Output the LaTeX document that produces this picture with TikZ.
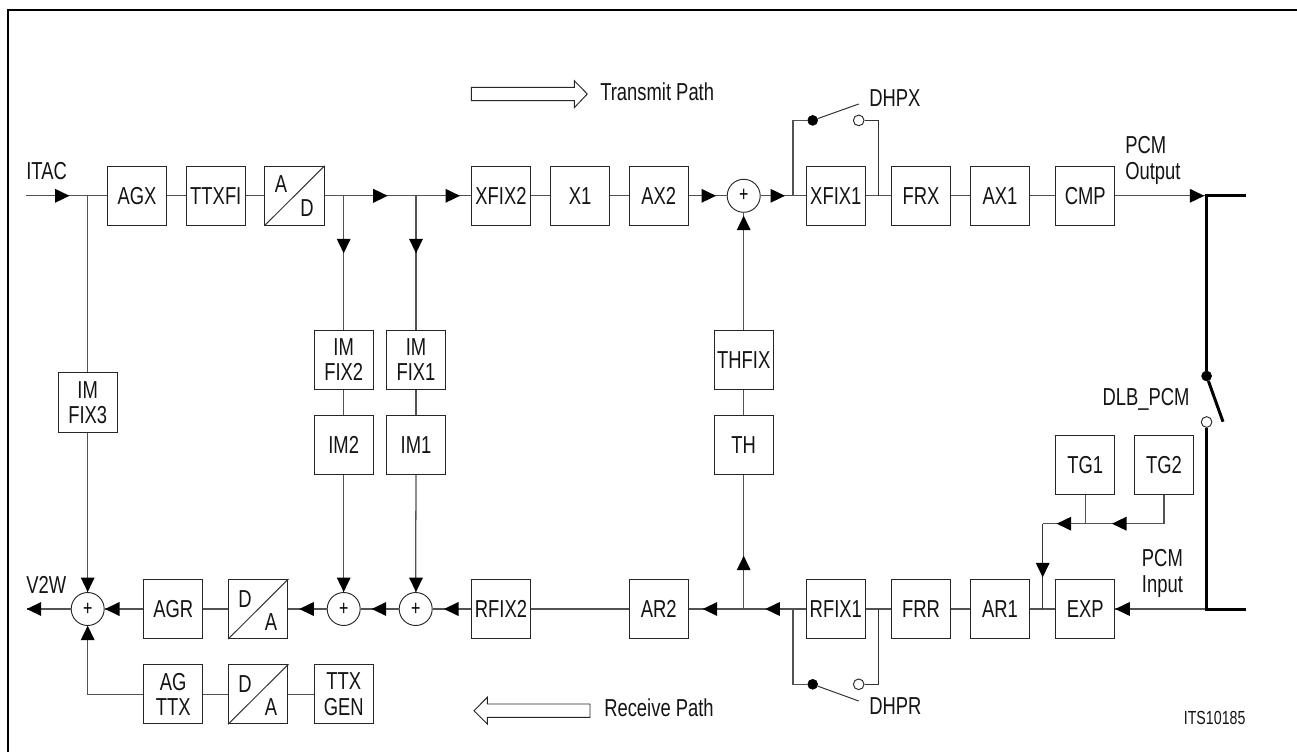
\documentclass[tikz,border=0pt]{standalone}
\usepackage{fontspec}
\setmainfont[FakeStretch=0.75]{Liberation Sans}
\newcommand{\tipat}[3]{\fill[black,shift={(#1,#2)},rotate=#3] (0,0) -- (-14.5,7) -- (-14.5,-7) -- cycle;}
\tikzset{
  lab/.style={font=\fontsize{18.4}{19.1}\selectfont,text=black!92,inner sep=0pt},
  blk/.style={draw=black!85,line width=0.75pt,minimum width=44.5pt,minimum height=44.3pt,inner sep=0pt,align=center,font=\fontsize{18.4}{19.1}\selectfont,text=black!92},
  sumnode/.style={circle,draw=black!85,line width=0.7pt,minimum size=24.75pt,inner sep=0pt,font=\fontsize{16}{17}\selectfont},
  conn/.style={draw=black!68,line width=0.95pt},
  swline/.style={draw=black!80,line width=0.75pt},
  thick bus/.style={draw=black,line width=2.25pt},
  dotfull/.style={circle,fill=black,draw=black,minimum size=7.5pt,inner sep=0pt},
  dotopen/.style={circle,fill=white,draw=black!85,line width=0.7pt,minimum size=8pt,inner sep=0pt},
  hollow/.style={draw=black!85,line width=0.7pt,fill=white},
}
\begin{document}
\begin{tikzpicture}[x=0.75pt,y=-0.75pt]
\useasboundingbox (0,0) rectangle (1297,752);
\draw[black,line width=1.6pt] (8,752) -- (8,10) -- (1297,10);

% top row
\node[blk] (agx) at (137,195.8) {AGX};
\node[blk] (ttxfi) at (215.8,195.8) {TTXFI};
\node[blk] (ad) at (294.5,195.8) {};
\node[blk] (xfix2) at (501,195.8) {XFIX2};
\node[blk] (x1) at (580,195.8) {X1};
\node[blk] (ax2) at (658.7,195.8) {AX2};
\node[sumnode] (sumt) at (743.7,195.8) {+};
\node[blk] (xfix1) at (835.8,195.8) {XFIX1};
\node[blk] (frx) at (921,195.8) {FRX};
\node[blk] (ax1) at (1000,195.8) {AX1};
\node[blk] (cmp) at (1085.3,195.8) {CMP};
% verticals
\node[blk] (imfix3) at (87.7,402.5) {IM\\FIX3};
\node[blk] (imfix2) at (343.7,359.8) {IM\\FIX2};
\node[blk] (im2) at (343.7,444.9) {IM2};
\node[blk] (imfix1) at (416,359.8) {IM\\FIX1};
\node[blk] (im1) at (416,444.9) {IM1};
\node[blk] (thfix) at (743.7,359.8) {THFIX};
\node[blk] (th) at (743.7,444.9) {TH};
\node[blk] (tg1) at (1085.3,464.8) {TG1};
\node[blk] (tg2) at (1164,464.8) {TG2};
% bottom row
\node[sumnode] (suma) at (87.7,609) {+};
\node[blk] (agr) at (173.2,609) {AGR};
\node[blk] (da) at (258.3,609) {};
\node[sumnode] (sumb) at (343.7,609) {+};
\node[sumnode] (sumc) at (415.7,609) {+};
\node[blk] (rfix2) at (501,609) {RFIX2};
\node[blk] (ar2) at (658.7,609) {AR2};
\node[blk] (rfix1) at (835.8,609) {RFIX1};
\node[blk] (frr) at (921,609) {FRR};
\node[blk] (ar1) at (1000,609) {AR1};
\node[blk] (exp) at (1085.3,609) {EXP};
\node[blk] (agttx) at (173.2,694.2) {AG\\TTX};
\node[blk] (dab) at (258.3,694.2) {};
\node[blk] (ttxgen) at (343.7,694.2) {TTX\\GEN};

% A/D letters and diagonals
\draw[swline] (ad.south west) -- (ad.north east);
\draw[swline] (da.south west) -- (da.north east);
\draw[swline] (dab.south west) -- (dab.north east);
\node[lab] (adA) at (281,184.3) {A};
\node[lab] (adD) at (307,208.3) {D};
\node[lab] (daD) at (245,598.7) {D};
\node[lab] (daA) at (271,622.3) {A};
\node[lab] (dabD) at (245,684) {D};
\node[lab] (dabA) at (271,707.5) {A};

% junction coordinates
\coordinate (itacin) at (25.7,195.8);
\coordinate (j3) at (87.7,195.8);
\coordinate (j2) at (343.7,195.8);
\coordinate (j1) at (416,195.8);
\coordinate (jx) at (793,195.8);
\coordinate (jxr) at (878.7,195.8);
\coordinate (v2w) at (26.7,609);
\coordinate (jth) at (743.7,609);
\coordinate (jr) at (793,609);
\coordinate (jrr) at (878.7,609);
\coordinate (jexp) at (1042.7,609);
\coordinate (jtg) at (1042.7,523.7);
\coordinate (jtg1) at (1085.3,523.7);
\coordinate (jtg2) at (1164,523.7);
\coordinate (pcmo) at (1206.6,195.8);
\coordinate (pcmi) at (1206.6,609);
\coordinate (pcmoe) at (1245.7,195.8);
\coordinate (pcmie) at (1245.7,609);

% switches
\node[dotfull] (sxa) at (812.7,120.4) {};
\node[dotopen] (sxb) at (858.7,120.4) {};
\coordinate (sxarm) at (858.7,104);
\node[dotfull] (sra) at (812.7,684.3) {};
\node[dotopen] (srb) at (858.7,684.3) {};
\coordinate (srarm) at (858.7,701);
\node[dotfull] (dla) at (1206.6,376) {};
\node[dotopen] (dlb) at (1206.6,422) {};
\coordinate (dlarm) at (1223,421.7);

% connectors top
\draw[conn] (itacin) -- (agx);
\draw[conn] (agx) -- (ttxfi);
\draw[conn] (ttxfi) -- (ad);
\draw[conn] (ad) -- (xfix2);
\draw[conn] (xfix2) -- (x1);
\draw[conn] (x1) -- (ax2);
\draw[conn] (ax2) -- (sumt);
\draw[conn] (sumt) -- (xfix1);
\draw[conn] (xfix1) -- (frx);
\draw[conn] (frx) -- (ax1);
\draw[conn] (ax1) -- (cmp);
\draw[conn] (cmp) -- (pcmo);
% verticals
\draw[conn] (j3) -- (imfix3);
\draw[conn] (imfix3) -- (suma);
\draw[conn] (j2) -- (imfix2);
\draw[conn] (imfix2) -- (im2);
\draw[conn] (im2) -- (sumb);
\draw[conn] (j1) -- (imfix1);
\draw[conn] (imfix1) -- (im1);
\draw[conn] (im1) -- (sumc);
\draw[conn] (thfix) -- (sumt);
\draw[conn] (th) -- (thfix);
\draw[conn] (jth) -- (th);
% bottom
\draw[conn] (suma) -- (v2w);
\draw[conn] (agr) -- (suma);
\draw[conn] (da) -- (agr);
\draw[conn] (sumb) -- (da);
\draw[conn] (sumc) -- (sumb);
\draw[conn] (rfix2) -- (sumc);
\draw[conn] (ar2) -- (rfix2);
\draw[conn] (rfix1) -- (ar2);
\draw[conn] (frr) -- (rfix1);
\draw[conn] (ar1) -- (frr);
\draw[conn] (exp) -- (ar1);
\draw[conn] (pcmi) -- (exp);
\draw[conn] (agttx.west) -| (suma.south);
\draw[conn] (dab) -- (agttx);
\draw[conn] (ttxgen) -- (dab);
% TG
\draw[conn] (tg1) -- (jtg1);
\draw[conn] (tg2) |- (jtg1);
\draw[conn] (jtg1) -- (jtg);
\draw[swline] (jtg) -- (jexp);
% bypass
\draw[conn] (jx) -- (jx |- sxa) -- (sxa);
\draw[swline] (sxb) -- (jxr |- sxb) -- (jxr);
\draw[swline] (sxa) -- (sxarm);
\draw[conn] (jr) -- (jr |- sra) -- (sra);
\draw[swline] (srb) -- (jrr |- srb) -- (jrr);
\draw[swline] (sra) -- (srarm);
% bus
\draw[thick bus] (pcmoe) -- (pcmo) -- (dla);
\draw[thick bus] (dla) -- (dlarm);
\draw[thick bus] (dlb) -- (pcmi) -- (pcmie);

% arrowheads
\tipat{69.5}{195.8}{0}
\tipat{387.7}{195.8}{0}
\tipat{460}{195.8}{0}
\tipat{716}{195.8}{0}
\tipat{785}{195.8}{0}
\tipat{1204.3}{195.8}{0}
\tipat{343.7}{253.3}{270}
\tipat{416}{253.3}{270}
\tipat{743.7}{215.7}{90}
\tipat{743.7}{555.7}{90}
\tipat{26.7}{609}{180}
\tipat{105}{609}{180}
\tipat{299.3}{609}{180}
\tipat{371.7}{609}{180}
\tipat{444}{609}{180}
\tipat{702.7}{609}{180}
\tipat{765.3}{609}{180}
\tipat{1115.3}{609}{180}
\tipat{87.7}{592}{270}
\tipat{343.7}{592}{270}
\tipat{416}{592}{270}
\tipat{87.7}{625.7}{90}
\tipat{1056.7}{523.7}{180}
\tipat{1112}{523.7}{180}
\tipat{1042.7}{577.3}{270}

% hollow arrows
\draw[hollow] (471.3,87.3) -- (574.3,87.3) -- (574.3,80.7) -- (587.3,94) -- (574.3,107.7) -- (574.3,100.7) -- (471.3,100.7) -- cycle;
\draw[hollow] (590,704) -- (487.3,704) -- (487.3,697.3) -- (474,710.7) -- (487.3,724) -- (487.3,717.3) -- (590,717.3) -- cycle;

% labels
\node[lab,anchor=base west] (titac) at (26,180) {ITAC};
\node[lab,anchor=base west] (tv2w) at (26,593) {V2W};
\node[lab,anchor=base west] (ttp) at (600,100.5) {Transmit Path};
\node[lab,anchor=base west] (trp) at (604,716) {Receive Path};
\node[lab,anchor=base west] (tdhpx) at (869,106.7) {DHPX};
\node[lab,anchor=base west] (tdhpr) at (869,714) {DHPR};
\node[lab,anchor=base west] (tpcmo1) at (1125,153.3) {PCM};
\node[lab,anchor=base west] (tpcmo2) at (1125,180) {Output};
\node[lab,anchor=base west] (tpcmi1) at (1141.7,566) {PCM};
\node[lab,anchor=base west] (tpcmi2) at (1141.7,592.7) {Input};
\node[lab,anchor=base west] (tdlb) at (1102.3,405.7) {DLB\_PCM};
\node[lab,anchor=base east,font=\fontsize{14.2}{15}\selectfont] (tits) at (1245.7,724.3) {ITS10185};
\end{tikzpicture}
\end{document}
